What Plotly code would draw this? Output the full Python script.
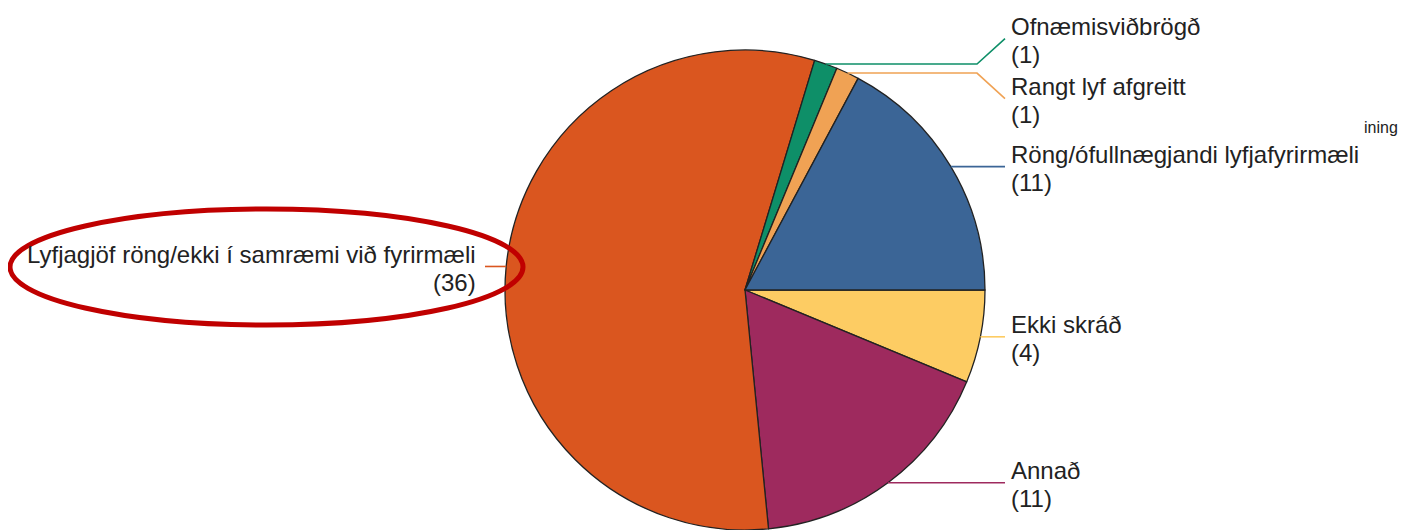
import math
import plotly.graph_objects as go

# slices in clockwise order starting at 3 o'clock
labels = [
    "Ekki skráð",
    "Annað",
    "Lyfjagjöf röng/ekki í samræmi við fyrirmæli",
    "Ofnæmisviðbrögð",
    "Rangt lyf afgreitt",
    "Röng/ófullnægjandi lyfjafyrirmæli",
]
counts = [4, 11, 36, 1, 1, 11]
colors = ["#FDCC63", "#9E2A5E", "#DA561F", "#0E8F68", "#F0A254", "#3B6596"]

# the html body has an 8px margin, so the figure sits at (8, 8) on the page
OX, OY = 8, 8
W, H = 1398, 522
TOP = 50
R = (OY + H - TOP) / 2
CX, CY = 745, TOP + R
FONT = "Liberation Sans, Arial, sans-serif"
MIN_GAP = 60


def px(x, y):
    """page pixels -> paper coords"""
    return (x - OX) / W, 1 - (y - OY) / H


def spread(items):
    """push label y positions apart so two-line labels do not overlap"""
    items = sorted(items, key=lambda d: d["ny"])
    groups = [[d] for d in items]
    changed = True
    while changed:
        changed = False
        for g in groups:
            mean = sum(d["ny"] for d in g) / len(g)
            start = mean - (len(g) - 1) * MIN_GAP / 2
            for i, d in enumerate(g):
                d["ly"] = start + i * MIN_GAP
        for i in range(len(groups) - 1):
            if groups[i + 1][0]["ly"] - groups[i][-1]["ly"] < MIN_GAP:
                groups[i] = groups[i] + groups.pop(i + 1)
                changed = True
                break
    return items


total = sum(counts)
items = []
start = 0.0
for lab, n, col in zip(labels, counts, colors):
    sweep = n / total * 360
    mid = math.radians(start - sweep / 2)
    start -= sweep
    ex, ey = CX + R * math.cos(mid), CY - R * math.sin(mid)
    items.append(dict(label=lab, n=n, color=col, ex=ex, ey=ey, ny=ey,
                      side=1 if math.cos(mid) > 0 else -1))

right = spread([d for d in items if d["side"] > 0])
left = spread([d for d in items if d["side"] < 0])

cx_paper = (CX - OX) / W
fig = go.Figure(
    go.Pie(
        labels=labels,
        values=counts,
        sort=False,
        direction="clockwise",
        rotation=90,
        textinfo="none",
        hoverinfo="label+value",
        marker=dict(colors=colors, line=dict(color="#222222", width=1.3)),
        domain=dict(x=[cx_paper - 0.2, cx_paper + 0.2], y=[0, px(0, TOP)[1]]),
        showlegend=False,
    )
)

shapes = []
annotations = []
for d in right + left:
    s = d["side"]
    end_x = CX + s * 260
    if abs(d["ly"] - d["ny"]) > 1:
        elbow_x = CX + s * 232
        pts = [(d["ex"], d["ey"]), (elbow_x, d["ey"]), (end_x, d["ly"])]
    else:
        pts = [(d["ex"], d["ey"]), (end_x, d["ly"])]
    path = "M " + " L ".join("%f,%f" % px(x, y) for x, y in pts)
    shapes.append(dict(type="path", path=path, xref="paper", yref="paper",
                       line=dict(color=d["color"], width=1.6)))
    tx = CX + s * 264 if s > 0 else CX - 267
    anchor = "left" if s > 0 else "right"
    for text, dy in ((d["label"], -14), ("(%d)" % d["n"], 14)):
        x, y = px(tx, d["ly"] + 2 + dy)
        annotations.append(dict(x=x, y=y, xref="paper", yref="paper", text=text,
                                showarrow=False, xanchor=anchor, yanchor="middle",
                                align=anchor,
                                font=dict(family=FONT, size=24, color="#222222")))

# clipped text at the right edge
x, y = px(1362, 127)
annotations.append(dict(x=x, y=y, xref="paper", yref="paper", text="ining",
                        showarrow=False, xanchor="left", yanchor="middle",
                        font=dict(family=FONT, size=16, color="#222222")))

# red highlight ellipse around the largest slice label
x0, y0 = px(10, 209)
x1, y1 = px(523, 325)
shapes.append(dict(type="circle", xref="paper", yref="paper",
                   x0=x0, y0=y1, x1=x1, y1=y0,
                   line=dict(color="#C00000", width=5)))

fig.update_layout(
    width=W,
    height=H,
    margin=dict(l=0, r=0, t=0, b=0),
    paper_bgcolor="white",
    plot_bgcolor="white",
    shapes=shapes,
    annotations=annotations,
)

fig.write_html("out.html")
